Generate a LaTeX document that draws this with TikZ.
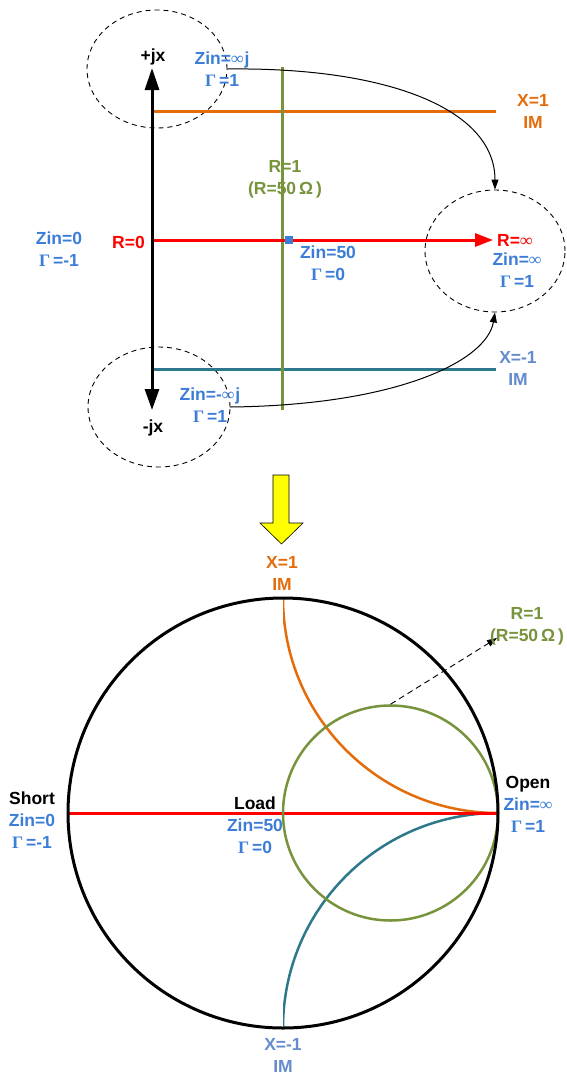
\documentclass[tikz,border=0pt]{standalone}
\usepackage{fontspec}
\setmainfont{Liberation Sans}
\newfontfamily\gamfont{Liberation Serif}
\usetikzlibrary{arrows.meta,shapes.geometric}
\definecolor{cOr}{RGB}{228,108,10}
\definecolor{cGr}{RGB}{119,147,60}
\definecolor{cRd}{RGB}{255,0,0}
\definecolor{cTl}{RGB}{45,120,138}
\definecolor{cBl}{RGB}{60,125,215}
\definecolor{cXm}{RGB}{100,140,205}
\definecolor{cYl}{RGB}{255,255,0}
\newcommand{\Gm}{{\gamfont\bfseries Γ}}
\newcommand{\Inf}{{\gamfont\bfseries ∞}}
\tikzset{
  lbl/.style={font=\fontsize{17.5}{22}\selectfont\bfseries, align=center, inner sep=0pt},
  dell/.style={draw=black, line width=0.9pt, dash pattern=on 5pt off 4pt, ellipse, inner sep=0pt},
  thickln/.style={line width=3pt},
  curvarr/.style={line width=1pt, -{Triangle[length=10pt,width=7pt]}},
}
\begin{document}
\begin{tikzpicture}[x=1pt,y=-1pt]
\useasboundingbox (0,0) rectangle (566,1077);

% ---------- top part ----------
\node[dell, minimum width=140pt, minimum height=118pt] (tell) at (157,69) {};
\node[dell, minimum width=142pt, minimum height=120pt] (bell) at (159,407) {};
\node[dell, minimum width=140pt, minimum height=122pt] (rell) at (495,251) {};

\coordinate (axT) at (152,68);
\coordinate (axB) at (152,410);
\coordinate (orL) at (152,111);
\coordinate (orR) at (496,111);
\coordinate (tlL) at (152,369);
\coordinate (tlR) at (496,369);
\coordinate (rdL) at (152,240);
\coordinate (rdR) at (493,240);
\coordinate (grT) at (282,67);
\coordinate (grB) at (282,410);

\draw[thickln, cOr] (orL) -- (orR);
\draw[thickln, cTl] (tlL) -- (tlR);
\draw[thickln, cGr] (grT) -- (grB);
\draw[thickln, cRd, -{Triangle[length=18pt,width=13pt]}] (rdL) -- (rdR);
\draw[thickln, black, {Triangle[length=22pt,width=14pt]}-{Triangle[length=21pt,width=14pt]}] (axT) -- (axB);

\node[fill=cBl, minimum size=8pt, inner sep=0pt] (sq) at (288.5,240) {};

\draw[curvarr] (tell.east) .. controls (390,67) and (495,110) .. (rell.north);
\draw[curvarr] (bell.east) .. controls (400,405) and (487,360) .. (rell.south);

\node[lbl] (pjx) at (153,57) {+jx};
\node[lbl] (mjx) at (153,428) {-jx};
\node[lbl, cBl] (zinj) at (222,69) {Zin=\Inf\kern1pt j\\\Gm\,=1};
\node[lbl, cBl] (zinmj) at (210,405) {Zin=-\Inf\kern1pt j\\\Gm\,=1};
\node[lbl, cOr] (x1t) at (533,111) {X=1\\IM};
\node[lbl, cXm] (xm1t) at (518,368) {X=-1\\IM};
\node[lbl, cGr] (r1t) at (285,179) {R=1\\(R=50\,Ω\,)};
\node[lbl, cRd, anchor=east] (r0) at (145,242) {R=0};
\node[lbl, cBl] (zin0) at (59,249) {Zin=0\\\Gm\,=-1};
\node[lbl, cBl] (zin50) at (328,263) {Zin=50\\\Gm\,=0};
\node[lbl, cRd, anchor=west] (rinf) at (497,240) {R=\Inf};
\node[lbl, cBl] (zinf) at (517,270) {Zin=\Inf\\\Gm\,=1};

% ---------- yellow arrow ----------
\draw[fill=cYl, draw=black, line width=0.6pt]
  (273,475) -- (289,475) -- (289,523) -- (303,523) -- (281.5,544) -- (260,523) -- (273,523) -- cycle;

% ---------- Smith chart ----------
\coordinate (sc) at (283,813);
\coordinate (scL) at (68,813);
\coordinate (scR) at (498,813);
\begin{scope}
  \clip (283,598) rectangle (498,813);
  \draw[line width=2.5pt, cOr] (498,598) circle[radius=215];
\end{scope}
\begin{scope}
  \clip (283,813) rectangle (498,1028);
  \draw[line width=2.5pt, cTl] (498,1028) circle[radius=215];
\end{scope}
\draw[thickln, cRd] (scL) -- (scR);
\node[draw=cGr, line width=2.5pt, circle, minimum size=215pt, inner sep=0pt] (gc) at (390.5,813) {};
\draw[line width=3pt, black] (sc) circle[radius=215];

\coordinate (dashEnd) at (497,638);
\draw[line width=0.9pt, dash pattern=on 6pt off 4pt, -{Triangle[length=10pt,width=7pt]}] (gc.north) -- (dashEnd);

\node[lbl, cOr] (x1b) at (282,573) {X=1\\IM};
\node[lbl, cXm] (xm1b) at (283,1055) {X=-1\\IM};
\node[lbl, cGr] (r1b) at (527,626) {R=1\\(R=50\,Ω\,)};
\node[lbl] (short) at (32,820) {Short\\\textcolor{cBl}{Zin=0}\\\textcolor{cBl}{\Gm\,=-1}};
\node[lbl] (load) at (255,825) {Load\\\textcolor{cBl}{Zin=50}\\\textcolor{cBl}{\Gm\,=0}};
\node[lbl] (open) at (528,804) {Open\\\textcolor{cBl}{Zin=\Inf}\\\textcolor{cBl}{\Gm\,=1}};
\end{tikzpicture}
\end{document}
